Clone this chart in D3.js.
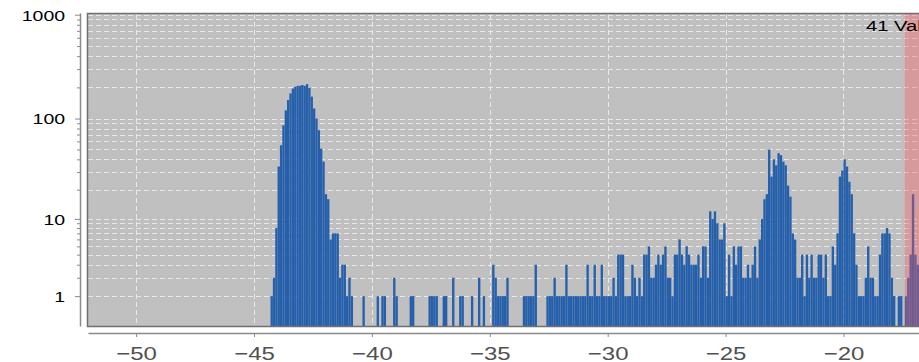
<!DOCTYPE html>
<html>
<head>
<meta charset="utf-8">
<script src="https://cdn.jsdelivr.net/npm/d3@7"></script>
<style>
body { margin: 0; background: #fff; }
svg { display: block; }
text { font-family: "Liberation Sans", Arial, sans-serif; }
</style>
</head>
<body>
<svg id="chart" width="919" height="362"></svg>
<script>
// histogram bins: first bin edge and width, then counts per bin
var binStart = -44.3;
var binWidth = 0.1;
var counts = [
    1, 2, 8, 34, 55, 86, 120, 151, 175, 195,
    203, 207, 207, 211, 207, 215, 198, 163, 125, 100,
    77, 51, 38, 18, 16, 6, 7, 7, 7, 2,
    3, 3, 1, 2, 1, 0, 0, 0, 0, 1,
    0, 0, 0, 0, 0, 1, 0, 1, 1, 0,
    0, 0, 2, 1, 0, 0, 0, 0, 0, 1,
    1, 0, 0, 0, 0, 0, 0, 1, 1, 1,
    1, 0, 0, 1, 1, 0, 0, 2, 0, 0,
    1, 1, 0, 0, 0, 1, 0, 0, 2, 0,
    1, 0, 0, 0, 3, 2, 1, 1, 1, 1,
    2, 0, 0, 0, 0, 0, 0, 1, 1, 1,
    1, 1, 3, 0, 0, 0, 0, 1, 1, 1,
    2, 1, 1, 1, 1, 3, 1, 1, 1, 1,
    1, 1, 1, 1, 3, 1, 1, 3, 1, 1,
    3, 1, 1, 1, 1, 2, 1, 4, 4, 4,
    1, 1, 1, 3, 2, 1, 2, 1, 4, 4,
    5, 2, 2, 3, 4, 3, 4, 5, 2, 2,
    1, 4, 4, 6, 4, 3, 5, 4, 3, 3,
    3, 4, 2, 5, 5, 2, 12, 10, 12, 9,
    6, 6, 9, 1, 4, 1, 5, 3, 5, 5,
    2, 2, 3, 2, 3, 5, 2, 6, 10, 16,
    18, 50, 27, 40, 35, 46, 44, 38, 35, 22,
    17, 7, 6, 2, 2, 4, 1, 4, 2, 4,
    2, 2, 4, 4, 2, 4, 1, 1, 5, 3,
    7, 27, 31, 40, 34, 24, 18, 7, 3, 1,
    1, 1, 2, 5, 2, 2, 1, 1, 4, 7,
    7, 8, 7, 2, 1, 0, 1, 1, 0, 1,
    2, 4, 18, 4, 3, 2, 2
];
var xTicks = [-50, -45, -40, -35, -30, -25, -20, -15];
var yMajorTicks = [1, 10, 100, 1000];
var yMinorTicks = [2, 3, 4, 5, 6, 7, 8, 9, 20, 30, 40, 50, 60, 70, 80, 90,
    200, 300, 400, 500, 600, 700, 800, 900];
var markStart = -17.4;
var markLabel = "41 Values";

var svg = d3.select("#chart");

var plot = { left: 88, right: 926, top: 14, bottom: 326 };

var x = d3.scaleLinear()
    .domain([-52.04, -16.5])
    .range([plot.left, plot.right]);

var y = d3.scaleSymlog()
    .constant(1)
    .domain([0, 1000])
    .range([327.5, 14.7]);

svg.append("clipPath").attr("id", "clip")
    .append("rect")
    .attr("x", plot.left).attr("y", plot.top)
    .attr("width", plot.right - plot.left).attr("height", plot.bottom - plot.top);

svg.append("rect")
    .attr("x", plot.left).attr("y", plot.top)
    .attr("width", plot.right - plot.left).attr("height", plot.bottom - plot.top)
    .attr("fill", "#c0c0c0");

var inner = svg.append("g").attr("clip-path", "url(#clip)");

// grid
inner.selectAll(".hgrid")
    .data(yMajorTicks.concat(yMinorTicks))
    .enter().append("line")
    .attr("class", "hgrid")
    .attr("x1", plot.left).attr("x2", plot.right)
    .attr("y1", function (d) { return Math.round(y(d)) + 0.5; })
    .attr("y2", function (d) { return Math.round(y(d)) + 0.5; })
    .attr("stroke", "#e8e8e8")
    .attr("stroke-dasharray", "5,3");

inner.selectAll(".vgrid")
    .data(xTicks)
    .enter().append("line")
    .attr("class", "vgrid")
    .attr("x1", function (d) { return Math.round(x(d)) + 0.5; })
    .attr("x2", function (d) { return Math.round(x(d)) + 0.5; })
    .attr("y1", plot.top).attr("y2", plot.bottom)
    .attr("stroke", "#e8e8e8")
    .attr("stroke-dasharray", "5,3");

// bars
var bars = counts.map(function (c, i) {
    return { x0: binStart + i * binWidth, x1: binStart + (i + 1) * binWidth, count: c };
}).filter(function (d) { return d.count > 0; });

inner.selectAll(".bar")
    .data(bars)
    .enter().append("rect")
    .attr("class", "bar")
    .attr("x", function (d) { return x(d.x0); })
    .attr("width", function (d) { return x(d.x1) - x(d.x0); })
    .attr("y", function (d) { return y(d.count); })
    .attr("height", function (d) { return y(0) - y(d.count); })
    .attr("fill", "#2660ab");

// marked region
inner.append("rect")
    .attr("x", x(markStart)).attr("y", plot.top)
    .attr("width", plot.right - x(markStart)).attr("height", plot.bottom - plot.top)
    .attr("fill", "rgb(255,80,90)")
    .attr("fill-opacity", 0.35);

svg.append("text")
    .attr("transform", "translate(866,30.5) scale(1.3,1)")
    .attr("font-size", 15.5)
    .attr("fill", "#000")
    .text(markLabel);

svg.append("rect")
    .attr("x", plot.left - 0.5).attr("y", plot.top - 0.5)
    .attr("width", plot.right - plot.left + 1).attr("height", plot.bottom - plot.top + 1)
    .attr("fill", "none")
    .attr("stroke", "#707070")
    .attr("stroke-width", 1.5);

// y axis
var yMinor = svg.append("g")
    .attr("transform", "translate(80,0)")
    .call(d3.axisLeft(y).tickValues(yMinorTicks).tickSize(3).tickSizeOuter(0).tickFormat(""));
var yAxis = svg.append("g")
    .attr("transform", "translate(80,0)")
    .call(d3.axisLeft(y).tickValues(yMajorTicks).tickSize(5).tickSizeOuter(0).tickPadding(6.5)
        .tickFormat(d3.format("d")));
yMinor.select(".domain").remove();
yAxis.select(".domain")
    .attr("d", "M0.5," + (plot.top - 0.5) + "V" + (plot.bottom + 0.5));
svg.selectAll(".tick line").attr("stroke", "#8a8a8a");
yAxis.selectAll("text")
    .attr("transform", "scale(1.3,1)")
    .attr("font-size", 15)
    .attr("fill", "#000")
    .attr("font-family", "Liberation Sans, Arial, sans-serif")
    .attr("dy", "0.36em");
yAxis.select(".domain").attr("stroke", "#8a8a8a").attr("stroke-width", 1.5);

// x axis
var xAxis = svg.append("g")
    .attr("transform", "translate(0,333)")
    .call(d3.axisBottom(x).tickValues(xTicks).tickSize(4).tickSizeOuter(0).tickPadding(9.8));
xAxis.select(".domain").attr("stroke", "#8a8a8a").attr("stroke-width", 1.5);
xAxis.selectAll(".tick line").attr("stroke", "#8a8a8a");
xAxis.selectAll("text")
    .attr("transform", "scale(1.29,1)")
    .attr("font-size", 18.6)
    .attr("fill", "#505050")
    .attr("font-family", "Liberation Sans, Arial, sans-serif");
</script>
</body>
</html>
